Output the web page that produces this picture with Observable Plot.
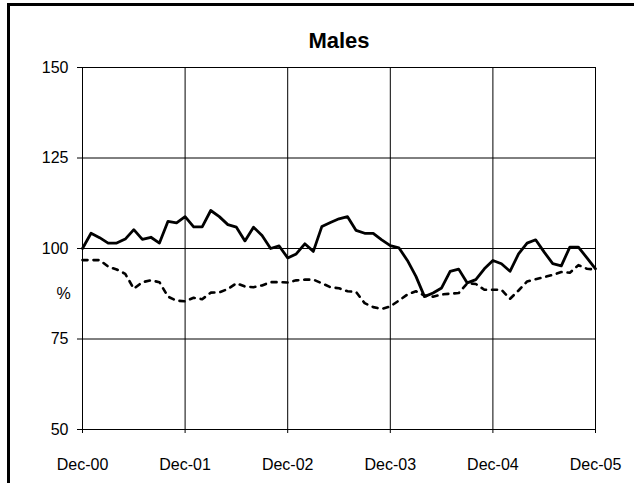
<!DOCTYPE html>
<html>
<head>
<meta charset="utf-8">
<script src="https://cdn.jsdelivr.net/npm/d3@7"></script>
<script src="https://cdn.jsdelivr.net/npm/@observablehq/plot@0.6"></script>
<style>
  html, body { margin: 0; padding: 0; background: #fff; }
  #wrap { position: relative; width: 634px; height: 483px; overflow: hidden; }
  #frame { position: absolute; left: 7px; top: 3px; width: 700px; height: 600px;
           border-left: 3px solid #000; border-top: 3px solid #000; }
  #chart { position: absolute; left: 0; top: 0; }
</style>
</head>
<body>
<div id="wrap"><div id="frame"></div><div id="chart"></div></div>
<script>
const title = "Males";
const yTicks = [50, 75, 100, 125, 150];
const xTickLabels = ["Dec-00", "Dec-01", "Dec-02", "Dec-03", "Dec-04", "Dec-05"];
const xTickMonths = [0, 12, 24, 36, 48, 60];
// monthly index, Dec-00 .. Dec-05
const solidSeries = [
  100.0, 104.2, 103.0, 101.5, 101.5, 102.6, 105.2, 102.5, 103.1, 101.5, 107.5, 107.1,
  108.8, 106.0, 106.0, 110.5, 108.8, 106.6, 105.9, 102.1, 105.9, 103.6, 100.0, 100.7,
  97.4, 98.5, 101.3, 99.2, 106.1, 107.2, 108.2, 108.8, 105.0, 104.2, 104.2, 102.4,
  100.8, 100.2, 96.7, 92.3, 86.7, 87.7, 89.1, 93.7, 94.3, 90.5, 91.4, 94.4,
  96.7, 95.8, 93.7, 98.5, 101.5, 102.4, 99.0, 95.8, 95.2, 100.4, 100.4, 97.4,
  94.4
];
const dashedSeries = [
  96.8, 96.8, 96.8, 95.0, 94.2, 93.0, 88.9, 90.7, 91.2, 90.7, 86.7, 85.6,
  85.4, 86.4, 86.0, 87.8, 87.9, 88.8, 90.4, 89.5, 89.3, 89.8, 90.7, 90.7,
  90.6, 91.2, 91.4, 91.4, 90.4, 89.3, 89.0, 88.2, 88.0, 84.9, 83.8, 83.3,
  84.0, 85.6, 87.3, 88.2, 87.0, 86.7, 87.3, 87.5, 87.7, 90.4, 90.2, 88.6,
  88.6, 88.6, 86.1, 88.4, 90.9, 91.5, 92.1, 92.7, 93.5, 93.3, 95.4, 94.4,
  94.2
];

const solid = solidSeries.map((v, i) => ({m: i, v}));
const dashed = dashedSeries.map((v, i) => ({m: i, v}));
const font = "'Liberation Sans', Arial, sans-serif";
const fmtX = (d) => xTickLabels[xTickMonths.indexOf(d)];

const plot = Plot.plot({
  width: 634,
  height: 483,
  marginLeft: 82,
  marginRight: 39,
  marginTop: 67,
  marginBottom: 54,
  style: {fontFamily: font, fontSize: "16px", color: "#000", background: "transparent"},
  x: {domain: [0, 60], label: null},
  y: {domain: [50, 150], label: null},
  marks: [
    Plot.gridX(xTickMonths, {stroke: "#000", strokeOpacity: 1, strokeWidth: 1}),
    Plot.gridY(yTicks, {stroke: "#000", strokeOpacity: 1, strokeWidth: 1}),
    Plot.axisX(xTickMonths, {tickFormat: fmtX, tickSize: 4, tickPadding: 25, label: null, fontSize: 16}),
    Plot.axisY(yTicks, {tickSize: 5, tickPadding: 9, label: null, fontSize: 16}),
    Plot.text(["%"], {frameAnchor: "left", dx: -26, dy: 45, text: d => d, fontSize: 16}),
    Plot.text([title], {frameAnchor: "top", dy: -35, text: d => d, fontSize: 22, fontWeight: "bold"}),
    Plot.line(dashed, {x: "m", y: "v", stroke: "#000", strokeWidth: 2.6, strokeDasharray: "5,6"}),
    Plot.line(solid, {x: "m", y: "v", stroke: "#000", strokeWidth: 2.8})
  ]
});
document.getElementById("chart").appendChild(plot);
</script>
</body>
</html>
